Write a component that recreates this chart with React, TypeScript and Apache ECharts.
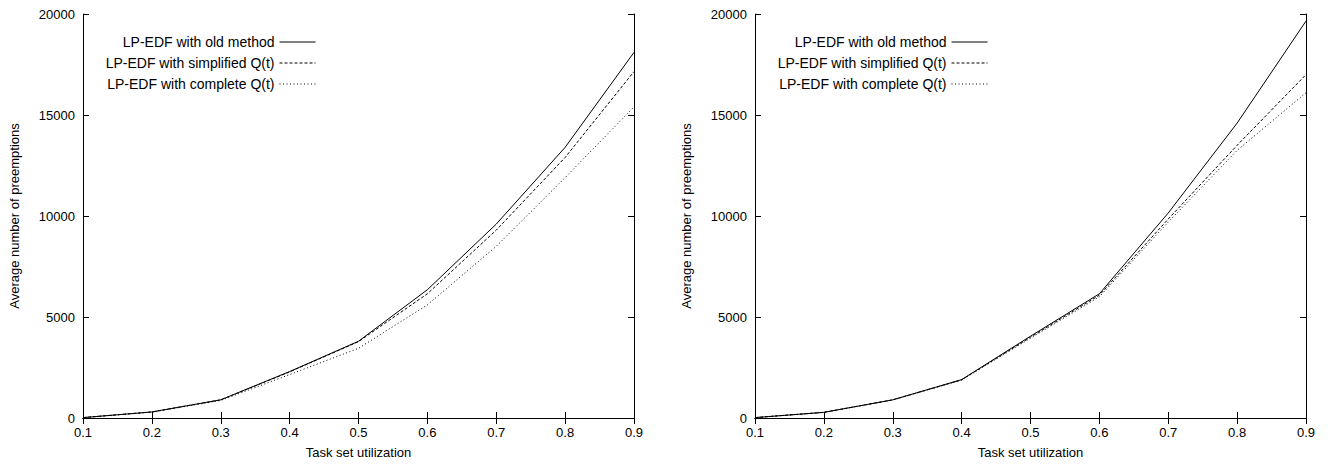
import React, { useEffect, useRef } from "react";
import * as echarts from "echarts";

const utilization = ["0.1", "0.2", "0.3", "0.4", "0.5", "0.6", "0.7", "0.8", "0.9"];
const yTicks = [0, 5000, 10000, 15000, 20000];

const seriesNames = [
  "LP-EDF with old method",
  "LP-EDF with simplified Q(t)",
  "LP-EDF with complete Q(t)",
];

const leftOld = [20, 300, 900, 2300, 3800, 6350, 9600, 13400, 18100];
const leftSimplified = [20, 300, 900, 2280, 3780, 6150, 9300, 12900, 17150];
const leftComplete = [20, 290, 870, 2150, 3450, 5600, 8500, 11900, 15400];

const rightOld = [20, 280, 900, 1900, 4050, 6150, 10150, 14600, 19650];
const rightSimplified = [20, 280, 900, 1890, 4000, 6080, 9850, 13500, 17000];
const rightComplete = [20, 280, 890, 1880, 3950, 6000, 9700, 13250, 16100];

const FONT = "'Liberation Sans', Arial, Helvetica, sans-serif";
const lineTypes: any[] = ["solid", [3, 2], [1, 2.5]];

export default function App() {
  const ref = useRef<HTMLDivElement>(null);

  useEffect(() => {
    if (!ref.current) return;
    const chart = echarts.init(ref.current, undefined, { renderer: "svg" });

    const grids = [
      { left: 83, right: 694, top: 14, bottom: 44 },
      { left: 755, right: 22, top: 14, bottom: 44 },
    ];

    const xAxes: any[] = [];
    const yAxes: any[] = [];
    grids.forEach((_, gi) => {
      xAxes.push({
        type: "category",
        gridIndex: gi,
        data: utilization,
        boundaryGap: false,
        position: "bottom",
        name: "Task set utilization",
        nameLocation: "middle",
        nameGap: 28,
        nameTextStyle: { fontSize: 13, color: "#000", fontFamily: FONT },
        axisLine: { show: true, lineStyle: { color: "#000", width: 1 } },
        axisTick: { show: true, inside: true, length: 6, alignWithLabel: true, lineStyle: { color: "#000" } },
        axisLabel: { show: true, margin: 8, fontSize: 13, color: "#000", fontFamily: FONT },
        splitLine: { show: false },
      });
      xAxes.push({
        type: "category",
        gridIndex: gi,
        data: utilization,
        boundaryGap: false,
        position: "top",
        axisLine: { show: true, lineStyle: { color: "#000", width: 1 } },
        axisTick: { show: true, inside: true, length: 6, lineStyle: { color: "#000" } },
        axisLabel: { show: false },
        splitLine: { show: false },
      });
      yAxes.push({
        type: "value",
        gridIndex: gi,
        min: yTicks[0],
        max: yTicks[yTicks.length - 1],
        interval: yTicks[1] - yTicks[0],
        position: "left",
        name: "Average number of preemptions",
        nameLocation: "middle",
        nameGap: 62,
        nameTextStyle: { fontSize: 13, color: "#000", fontFamily: FONT },
        axisLine: { show: true, lineStyle: { color: "#000", width: 1 } },
        axisTick: { show: true, inside: true, length: 6, lineStyle: { color: "#000" } },
        axisLabel: { show: true, margin: 8, fontSize: 13, color: "#000", fontFamily: FONT, formatter: (v: number) => String(v) },
        splitLine: { show: false },
      });
      yAxes.push({
        type: "value",
        gridIndex: gi,
        min: yTicks[0],
        max: yTicks[yTicks.length - 1],
        interval: yTicks[1] - yTicks[0],
        position: "right",
        axisLine: { show: true, lineStyle: { color: "#000", width: 1 } },
        axisTick: { show: true, inside: true, length: 6, lineStyle: { color: "#000" } },
        axisLabel: { show: false },
        splitLine: { show: false },
      });
    });

    const panels = [
      [leftOld, leftSimplified, leftComplete],
      [rightOld, rightSimplified, rightComplete],
    ];

    const series: any[] = [];
    panels.forEach((vals, gi) => {
      vals.forEach((data, si) => {
        series.push({
          type: "line",
          name: seriesNames[si],
          xAxisIndex: gi * 2,
          yAxisIndex: gi * 2,
          data,
          symbol: "none",
          color: "#000",
          lineStyle: { color: "#000", width: 1, type: lineTypes[si] },
          emphasis: { disabled: true },
          z: 3 - si,
        });
      });
    });

    const legendBase = {
      orient: "vertical",
      align: "right",
      top: 35,
      itemWidth: 36,
      itemHeight: 12,
      itemGap: 7,
      padding: 0,
      selectedMode: false,
      data: seriesNames,
      itemStyle: { opacity: 0 },
      lineStyle: { width: 1 },
      textStyle: { fontSize: 14, color: "#000", fontFamily: FONT },
    };

    chart.setOption({
      animation: false,
      backgroundColor: "#fff",
      grid: grids,
      xAxis: xAxes,
      yAxis: yAxes,
      legend: [
        { ...legendBase, right: 1012 },
        { ...legendBase, right: 340 },
      ],
      series,
    });

    return () => chart.dispose();
  }, []);

  return (
    <div
      ref={ref}
      style={{ position: "absolute", left: 0, top: 0, width: 1328, height: 464, background: "#fff" }}
    />
  );
}
